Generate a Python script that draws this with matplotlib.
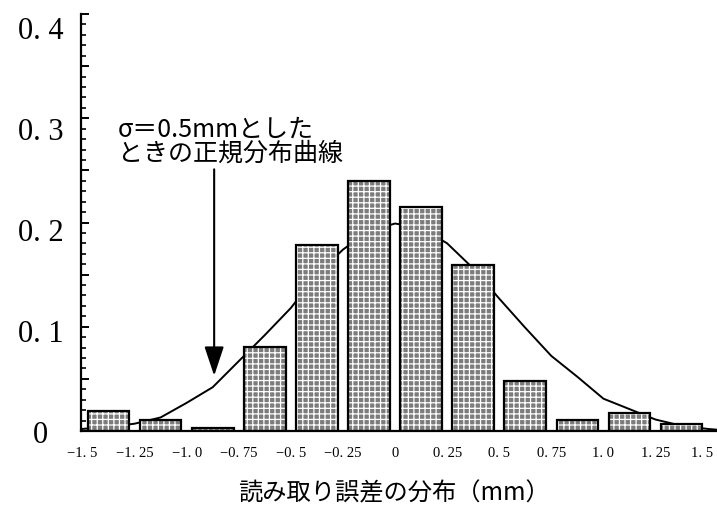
import matplotlib
matplotlib.use('Agg')
import matplotlib.pyplot as plt
import matplotlib.transforms as mtransforms
from matplotlib.ticker import MultipleLocator

# bins of reading error (mm), left edges, and relative frequency per bin
bin_left = [-1.5, -1.25, -1.0, -0.75, -0.5, -0.25, 0.0, 0.25, 0.5, 0.75, 1.0, 1.25]
freq = [0.019, 0.011, 0.003, 0.081, 0.178, 0.240, 0.215, 0.159, 0.048, 0.011, 0.017, 0.007]

# normal curve for sigma = 0.5 mm (scaled to bin width)
curve_x = [-1.5, -1.375, -1.25, -1.125, -1.0, -0.875, -0.75, -0.625, -0.5, -0.375,
           -0.25, -0.125, 0.0, 0.125, 0.25, 0.375, 0.5, 0.625, 0.75, 0.875,
           1.0, 1.125, 1.25, 1.375, 1.5, 1.56]
curve_y = [0.002, 0.004, 0.007, 0.013, 0.027, 0.042, 0.067, 0.092, 0.118, 0.150,
           0.174, 0.192, 0.199, 0.195, 0.180, 0.156, 0.127, 0.099, 0.072, 0.052,
           0.031, 0.021, 0.011, 0.005, 0.002, 0.001]

xtick_vals = [-1.5, -1.25, -1.0, -0.75, -0.5, -0.25, 0.0, 0.25, 0.5, 0.75, 1.0, 1.25, 1.5]
xtick_text = ['\u22121. 5', '\u22121. 25', '\u22121. 0', '\u22120. 75', '\u22120. 5', '\u22120. 25',
              '0', '0. 25', '0. 5', '0. 75', '1. 0', '1. 25', '1. 5']
ytick_vals = [0.0, 0.05, 0.1, 0.15, 0.2, 0.25, 0.3, 0.35, 0.4]
ytick_text = ['0', '', '0. 1', '', '0. 2', '', '0. 3', '', '0. 4']

jp = ['Noto Sans CJK JP', 'DejaVu Sans']
serif = ['Liberation Serif', 'DejaVu Serif']

plt.rcParams['hatch.linewidth'] = 0.9

fig = plt.figure(figsize=(7.17, 5.06), dpi=100)
ax = fig.add_axes([81 / 717, 74 / 506, 636 / 717, 417 / 506])

bin_w = 0.25
bar_w = 0.2
centers = [b + bin_w / 2 for b in bin_left]

ax.plot(curve_x, curve_y, color='black', lw=1.4, zorder=1)

# patterned fill, then black outline on top
ax.bar(centers, freq, width=bar_w, color='#7c7c7c', edgecolor='white',
       hatch='+++', linewidth=0, zorder=2)
ax.bar(centers, freq, width=bar_w, fill=False, edgecolor='black',
       linewidth=1.6, zorder=3)

ax.set_xlim(-1.507, 1.545)
ax.set_ylim(0, 0.4)

for s in ['top', 'right']:
    ax.spines[s].set_visible(False)
ax.spines['left'].set_linewidth(1.6)
ax.spines['bottom'].set_linewidth(1.6)

ax.set_xticks(xtick_vals)
ax.set_xticklabels(xtick_text, family=serif, fontsize=10.5)
ax.tick_params(axis='x', length=0, pad=11)
# keep the last label inside the figure
last = ax.get_xticklabels()[-1]
last.set_transform(last.get_transform() +
                   mtransforms.ScaledTranslation(-4 / 72, 0, fig.dpi_scale_trans))

ax.set_yticks(ytick_vals)
ax.set_yticklabels(ytick_text, family=serif, fontsize=22, ha='center')
ax.yaxis.set_minor_locator(MultipleLocator(0.01))
ax.tick_params(axis='y', which='major', direction='in', length=5.5, width=1.4, pad=29)
ax.tick_params(axis='y', which='minor', direction='in', length=3.8, width=1.2)

# upper labels sit a little below their ticks
for lab, v in zip(ax.get_yticklabels(), ytick_vals):
    shift = -v * 24 / 72
    lab.set_transform(lab.get_transform() +
                      mtransforms.ScaledTranslation(0, shift, fig.dpi_scale_trans))

ax.text(-1.329, 0.290, '\u03c3\uff1d0.5mm\u3068\u3057\u305f', family=jp, fontsize=18,
        va='center', ha='left')
ax.text(-1.329, 0.267, '\u3068\u304d\u306e\u6b63\u898f\u5206\u5e03\u66f2\u7dda', family=jp, fontsize=18,
        va='center', ha='left')

ax.annotate('', xy=(-0.868, 0.053), xytext=(-0.868, 0.251),
            arrowprops=dict(arrowstyle='-|>,head_length=0.9,head_width=0.3',
                            mutation_scale=20, lw=1.5, color='black',
                            shrinkA=0, shrinkB=0))

fig.text(394 / 717, 1 - 493 / 506, '\u8aad\u307f\u53d6\u308a\u8aa4\u5dee\u306e\u5206\u5e03\uff08mm\uff09',
         family=jp, fontsize=17.5, ha='center', va='center')

fig.savefig('out.png', dpi=100)
